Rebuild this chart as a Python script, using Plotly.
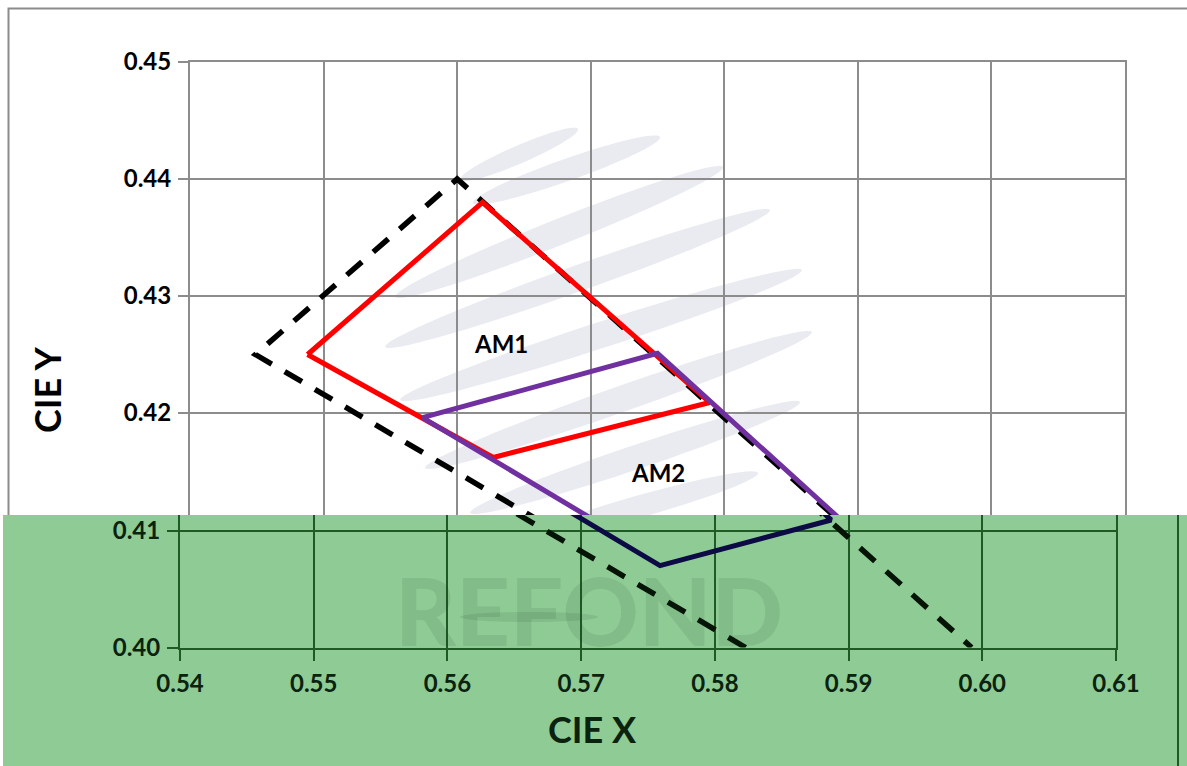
import numpy as np
import plotly.graph_objects as go

# ── chart data (CIE 1931 x, y) ────────────────────────────────────────────
X_TICKS = [0.54, 0.55, 0.56, 0.57, 0.58, 0.59, 0.60, 0.61]
Y_TICKS_TOP = [0.42, 0.43, 0.44, 0.45]
Y_TICKS_BAND = [0.40, 0.41]

# outer (dashed) boundary
OUTER_X = [0.5823, 0.5449, 0.5600, 0.5992]
OUTER_Y = [0.4000, 0.4250, 0.4400, 0.4000]

# AM1 bin (red)
AM1_X = [0.5488, 0.5619, 0.5789, 0.5627, 0.5488]
AM1_Y = [0.4250, 0.4380, 0.4209, 0.4162, 0.4250]

# AM2 bin (purple)
AM2_X = [0.5574, 0.5750, 0.5887, 0.5759, 0.5574]
AM2_Y = [0.4196, 0.4251, 0.4109, 0.4070, 0.4196]

BIN_LABELS = ["AM1", "AM2"]
BIN_LABEL_X = [0.5633, 0.5750]
BIN_LABEL_Y = [0.4259, 0.4149]

# ── colours ───────────────────────────────────────────────────────────────
GRID = "#8c8c8c"
RED = "#ff0000"
PURPLE = "#7030a0"
BAND_BG = "#8fcb95"
BAND_GRID = "#1f5a24"
BAND_TEXT = "#0a220e"
BAND_NAVY = "#0c0b45"
BAND_DASH = "#051407"
STRIPE = "#e9ebf1"
BAND_MARK = "rgba(20,60,30,0.1)"
FONT = "Lato, 'Open Sans', sans-serif"

W, H = 1187, 766


def px(x):
    return x / W


def py(y):
    return 1 - y / H


def ellipse_path(x0, y0, x1, y1, half_t):
    # rotated ellipse between two pixel points, returned in paper coords
    cx, cy = (x0 + x1) / 2, (y0 + y1) / 2
    a = np.hypot(x1 - x0, y1 - y0) / 2
    ang = np.arctan2(y1 - y0, x1 - x0)
    t = np.linspace(0, 2 * np.pi, 60)
    ex = cx + a * np.cos(t) * np.cos(ang) - half_t * np.sin(t) * np.sin(ang)
    ey = cy + a * np.cos(t) * np.sin(ang) + half_t * np.sin(t) * np.cos(ang)
    pts = [f"{px(u):.5f},{py(v):.5f}" for u, v in zip(ex, ey)]
    return "M " + " L ".join(pts) + " Z"


fig = go.Figure()

# upper (white) part of the chart
fig.add_trace(go.Scatter(x=OUTER_X, y=OUTER_Y, mode="lines", xaxis="x", yaxis="y",
                         line=dict(color="black", width=5.5, dash="20px,15px")))
fig.add_trace(go.Scatter(x=AM1_X, y=AM1_Y, mode="lines", xaxis="x", yaxis="y",
                         line=dict(color=RED, width=5)))
fig.add_trace(go.Scatter(x=AM2_X, y=AM2_Y, mode="lines", xaxis="x", yaxis="y",
                         line=dict(color=PURPLE, width=5)))

# lower (green, shifted) band
fig.add_trace(go.Scatter(x=OUTER_X, y=OUTER_Y, mode="lines", xaxis="x2", yaxis="y2",
                         line=dict(color=BAND_DASH, width=5.5, dash="20px,15px")))
fig.add_trace(go.Scatter(x=AM1_X, y=AM1_Y, mode="lines", xaxis="x2", yaxis="y2",
                         line=dict(color="#3a1410", width=5)))
fig.add_trace(go.Scatter(x=AM2_X, y=AM2_Y, mode="lines", xaxis="x2", yaxis="y2",
                         line=dict(color=BAND_NAVY, width=5)))

# ── background decoration ────────────────────────────────────────────────
shapes = []
stripes = [
    (460, 180, 578, 129, 9),
    (473, 203, 660, 137, 11),
    (395, 297, 723, 167, 13),
    (385, 347, 770, 210, 13),
    (400, 400, 802, 270, 13),
    (425, 468, 812, 332, 13),
    (470, 513, 800, 402, 12),
    (520, 540, 758, 473, 11),
]
for s in stripes:
    shapes.append(dict(type="path", xref="paper", yref="paper", layer="below",
                       path=ellipse_path(*s), fillcolor=STRIPE, line=dict(width=0)))

# outer frame
shapes.append(dict(type="rect", xref="paper", yref="paper", layer="below",
                   x0=px(8.5), x1=px(1188.5), y0=-0.2, y1=py(8.5),
                   line=dict(color=GRID, width=2), fillcolor="rgba(0,0,0,0)"))
# green band
shapes.append(dict(type="rect", xref="paper", yref="paper", layer="below",
                   x0=px(3), x1=1.01, y0=-0.01, y1=py(515),
                   line=dict(width=0), fillcolor=BAND_BG))
shapes.append(dict(type="line", xref="paper", yref="paper", layer="below",
                   x0=px(1178), x1=px(1178), y0=-0.01, y1=py(515),
                   line=dict(color=BAND_GRID, width=2)))
# faint logo bar in the band
shapes.append(dict(type="path", xref="paper", yref="paper", layer="below",
                   path=ellipse_path(460, 617, 598, 617, 5),
                   fillcolor=BAND_MARK, line=dict(width=0)))

annotations = [
    dict(text=t, x=x, y=y, xref="x", yref="y", showarrow=False,
         xanchor="center", yanchor="middle",
         font=dict(family=FONT, size=24, color="black", weight=700))
    for t, x, y in zip(BIN_LABELS, BIN_LABEL_X, BIN_LABEL_Y)
]
annotations += [
    dict(text="CIE Y", x=px(47), y=py(390), xref="paper", yref="paper", showarrow=False,
         xanchor="center", yanchor="middle", textangle=-90,
         font=dict(family=FONT, size=36, color="black", weight=700)),
    dict(text="CIE X", x=px(592), y=py(729), xref="paper", yref="paper", showarrow=False,
         xanchor="center", yanchor="middle",
         font=dict(family=FONT, size=36, color=BAND_TEXT, weight=700)),
    dict(text="REFOND", x=px(589), y=py(609), xref="paper", yref="paper", showarrow=False,
         xanchor="center", yanchor="middle",
         font=dict(family=FONT, size=94, color=BAND_MARK, weight=900)),
]

tick_font = dict(family=FONT, size=24, color="black", weight=700)
band_tick_font = dict(family=FONT, size=24, color=BAND_TEXT, weight=700)

fig.update_layout(
    width=W, height=H, autosize=False,
    margin=dict(l=0, r=0, t=0, b=0, pad=0, autoexpand=False),
    paper_bgcolor="white",
    plot_bgcolor="rgba(0,0,0,0)",
    showlegend=False,
    shapes=shapes,
    annotations=annotations,
    xaxis=dict(
        domain=[px(190), px(1125)], range=[0.54, 0.61], anchor="y", side="top",
        tickvals=X_TICKS, showticklabels=False, ticks="", automargin=False,
        showgrid=True, gridcolor=GRID, gridwidth=1.5,
        showline=True, linecolor=GRID, linewidth=2, zeroline=False,
    ),
    yaxis=dict(
        domain=[py(515), py(62)], range=[0.45 - 453 / 11700, 0.45], anchor="x",
        tickvals=Y_TICKS_TOP, ticktext=[f"{v:.2f}" for v in Y_TICKS_TOP],
        ticks="outside", ticklen=10, tickwidth=1.5, tickcolor=GRID,
        tickfont=tick_font, ticklabelstandoff=2, automargin=False,
        showgrid=True, gridcolor=GRID, gridwidth=1.5,
        showline=True, mirror=True, linecolor=GRID, linewidth=2, zeroline=False,
    ),
    xaxis2=dict(
        domain=[px(180), px(1116)], range=[0.54, 0.61], anchor="y2",
        tickvals=X_TICKS, ticktext=[f"{v:.2f}" for v in X_TICKS],
        ticks="outside", ticklen=11, tickwidth=1.5, tickcolor=BAND_GRID,
        tickfont=band_tick_font, ticklabelstandoff=3, automargin=False,
        showgrid=True, gridcolor=BAND_GRID, gridwidth=1.5,
        showline=True, linecolor=BAND_GRID, linewidth=2, zeroline=False,
    ),
    yaxis2=dict(
        domain=[py(647.5), py(515)], range=[0.40, 0.40 + 132.5 / 11700], anchor="x2",
        tickvals=Y_TICKS_BAND, ticktext=[f"{v:.2f}" for v in Y_TICKS_BAND],
        ticks="outside", ticklen=11, tickwidth=1.5, tickcolor=BAND_GRID,
        tickfont=band_tick_font, ticklabelstandoff=2, automargin=False,
        showgrid=True, gridcolor=BAND_GRID, gridwidth=1.5,
        showline=True, mirror=True, linecolor=BAND_GRID, linewidth=2, zeroline=False,
    ),
)

fig.write_html("out.html", config={"displayModeBar": False},
               post_script="document.body.style.margin='0';")
